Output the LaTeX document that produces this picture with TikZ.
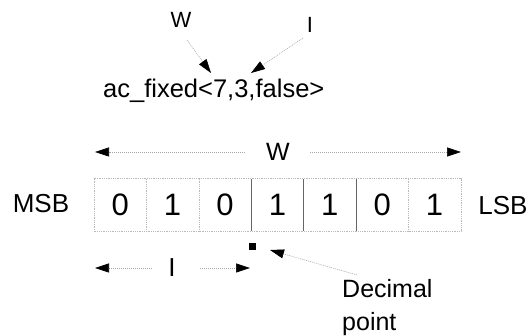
\documentclass[tikz,border=0pt]{standalone}
\usepackage{fontspec}
\setmainfont{Liberation Sans}
\usetikzlibrary{arrows.meta}
\begin{document}
\begin{tikzpicture}[x=1pt,y=-1pt,
  lbl/.style={inner sep=0pt,font=\fontsize{25}{30}\selectfont},
  bit/.style={inner sep=0pt,minimum width=52.4pt,minimum height=52pt,
              font=\fontsize{31}{34}\selectfont},
  guide/.style={draw=gray!70,line width=0.6pt,dash pattern=on 1pt off 1pt,
                -{Triangle[length=14pt,width=9pt,color=black]}},
  lightedge/.style={draw=gray!55,line width=0.6pt,dash pattern=on 1pt off 0.8pt},
  darkedge/.style={draw=gray!80!black,line width=0.7pt}]
\useasboundingbox (0,0) rectangle (531,336);

% template declaration with its parameter labels
\node[lbl,font=\fontsize{22}{26}\selectfont] (wtop) at (181,20) {W};
\node[lbl,font=\fontsize{22}{26}\selectfont] (itop) at (310,25) {I};
\node[lbl,font=\fontsize{25.5}{30}\selectfont,anchor=base west] (decl) at (103,98) {ac\_fixed<7,3,false>};
\coordinate (wtail) at (187,40);
\coordinate (wtip) at (211,73);
\coordinate (itail) at (303,38);
\coordinate (itip) at (251,73);
\draw[guide] (wtail) -- (wtip);
\draw[guide] (itail) -- (itip);

% total width W
\node[lbl] (wmid) at (278,152) {W};
\coordinate (wl) at (95,152);
\coordinate (wr) at (461,152);
\draw[guide] (245,152) -- (wl);
\draw[guide] (310,152) -- (wr);

% the seven bits
\foreach \b [count=\i] in {0,1,0,1,1,0,1}
  \node[bit] (c\i) at ({94+52.4*(\i-0.5)},205) {\b};
\draw[lightedge] (c1.north west) rectangle (c7.south east);
\draw[lightedge] (c1.north east) -- (c1.south east);
\draw[lightedge] (c2.north east) -- (c2.south east);
\draw[darkedge] (c3.north east) -- (c3.south east);
\draw[darkedge] (c4.north east) -- (c4.south east);
\draw[darkedge] (c5.north east) -- (c5.south east);
\draw[lightedge] (c6.north east) -- (c6.south east);

\node[lbl,font=\fontsize{26}{30}\selectfont] (msb) at (41,204) {MSB};
\node[lbl,font=\fontsize{26}{30}\selectfont] (lsb) at (503,206) {LSB};

% integer part I
\node[lbl,font=\fontsize{26}{30}\selectfont] (imid) at (172,268) {I};
\coordinate (il) at (95,268);
\coordinate (ir) at (250,268);
\draw[guide] (152,268) -- (il);
\draw[guide] (200,268) -- (ir);

% decimal point marker
\node[fill=black,minimum size=7pt,inner sep=0pt] (dot) at (252.5,246.5) {};
\node[lbl,anchor=base west] (dec) at (342,298) {Decimal};
\node[lbl,anchor=base west] (pnt) at (342,331) {point};
\coordinate (dptip) at (270,250);
\coordinate (dptail) at (357,275);
\draw[guide] (dptail) -- (dptip);
\end{tikzpicture}
\end{document}
